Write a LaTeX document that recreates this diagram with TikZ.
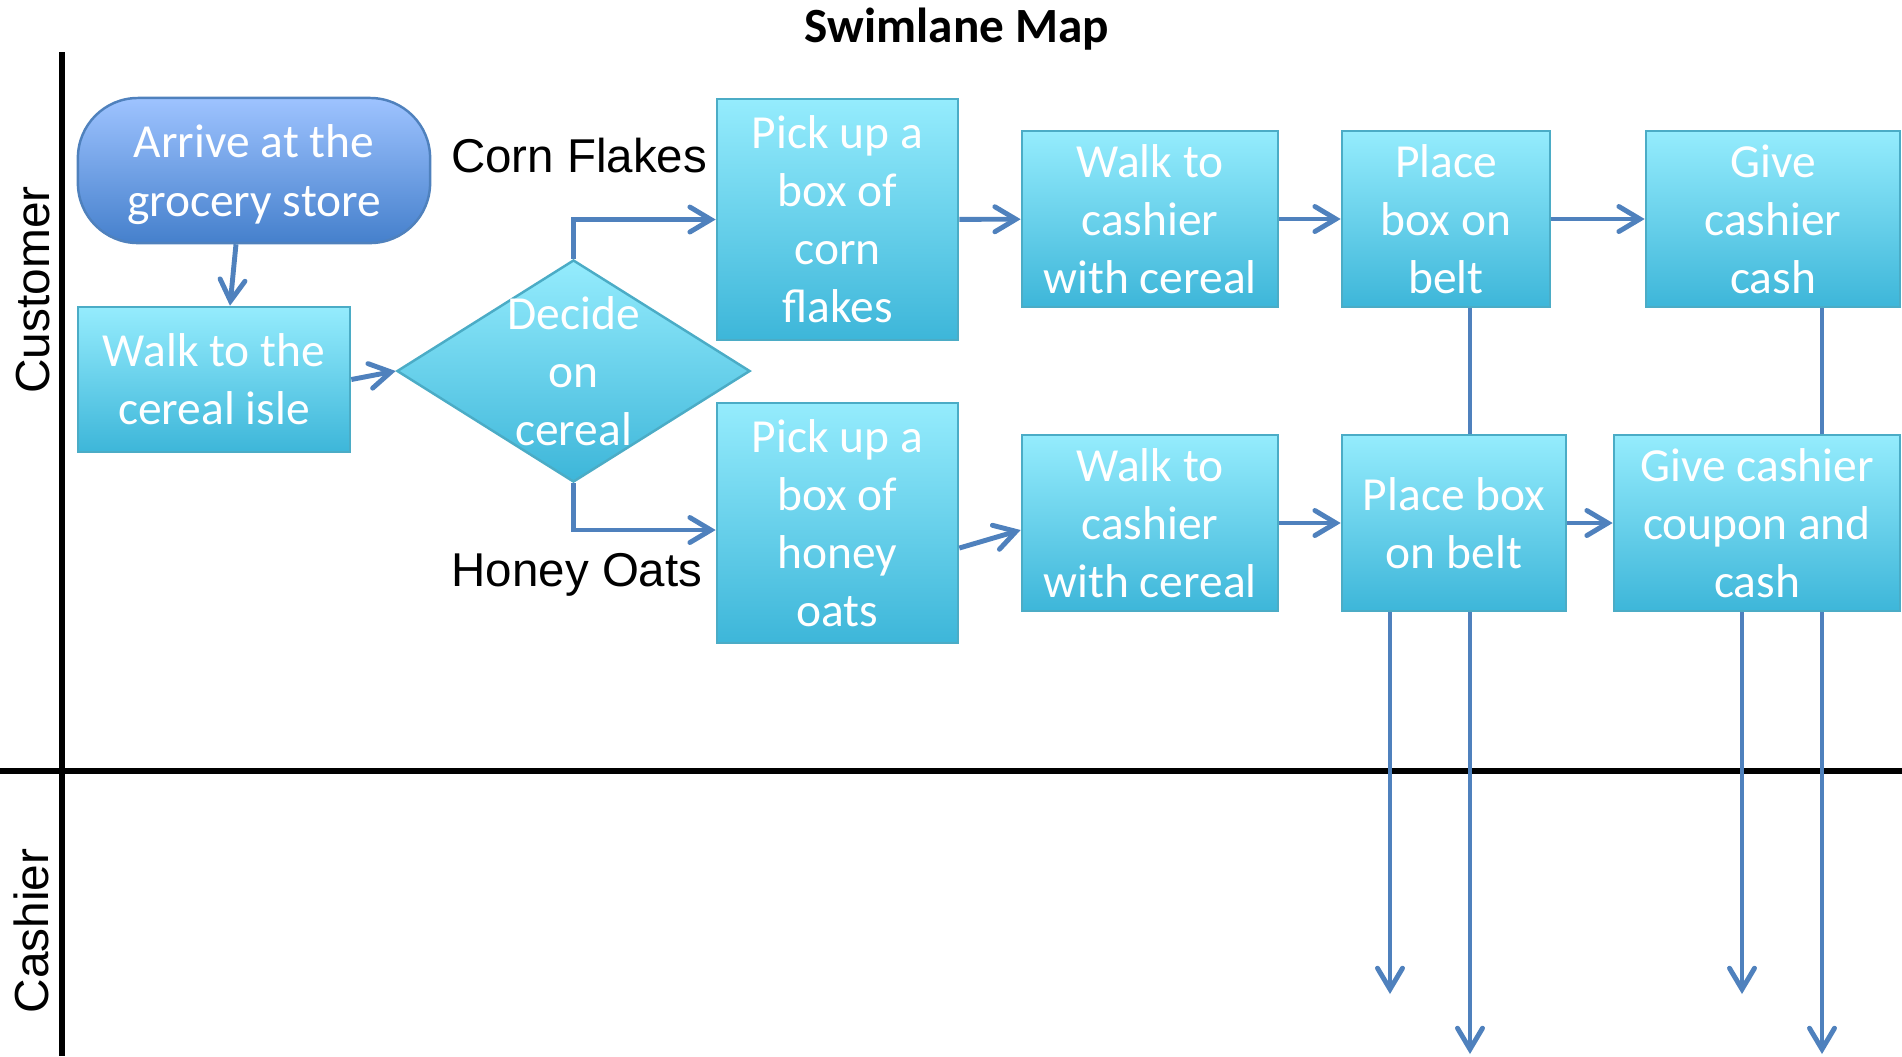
\documentclass[tikz,border=0pt]{standalone}
\usepackage{fontspec}
\setmainfont{Carlito}
\newfontfamily\arialfont{Liberation Sans}
\usetikzlibrary{arrows.meta,shapes.geometric}

\definecolor{boxtop}{HTML}{95ECFD}
\definecolor{boxbottom}{HTML}{3DB6D9}
\definecolor{boxline}{HTML}{4BACC6}
\definecolor{starttop}{HTML}{9EC3FF}
\definecolor{startbottom}{HTML}{4580CC}
\definecolor{startline}{HTML}{4F81BD}
\definecolor{flowline}{HTML}{4F81BD}

\begin{document}
\begin{tikzpicture}[x=0.01cm, y=-0.01cm,
	steptext/.style={text=white, align=center, font=\fontsize{13.5}{16.5}\selectfont},
	task/.style={rectangle, draw=boxline, line width=0.7pt, top color=boxtop, bottom color=boxbottom, inner sep=0pt, steptext},
	start/.style={rectangle, rounded corners=0.6cm, draw=startline, line width=0.7pt, top color=starttop, bottom color=startbottom, inner sep=0pt, text depth=0pt, steptext},
	decision/.style={diamond, draw=boxline, line width=0.7pt, top color=boxtop, bottom color=boxbottom, inner sep=0pt, minimum width=3.53cm, minimum height=2.22cm},
	lane/.style={line width=1.5pt},
	lanelabel/.style={rotate=90, font=\arialfont\fontsize{13.6}{16}\selectfont},
	choice/.style={anchor=base, font=\arialfont\fontsize{13.5}{16}\selectfont},
	flow/.style={draw=flowline, line width=1.4pt, -{Straight Barb[length=2.1mm, width=2.5mm, line cap=round]}},
	link/.style={draw=flowline, line width=1.4pt}]

	\useasboundingbox (0,0) rectangle (1902,1056);

	\node[anchor=base, font=\bfseries\fontsize{14}{17}\selectfont] (title) at (957,42) {Swimlane Map};

	% lanes
	\draw[lane] (62,52) -- (62,1056);
	\draw[lane] (0,771) -- (1902,771);
	\node[lanelabel] (customer) at (33,290) {Customer};
	\node[lanelabel] (cashier) at (31,931) {Cashier};

	% steps
	\node[start, minimum width=3.52cm, minimum height=1.45cm] (arrive) at (254,170.5) {Arrive at the\\grocery store};
	\node[task, minimum width=2.72cm, minimum height=1.45cm] (walk_isle) at (214,379.5) {Walk to the\\cereal isle};
	\node[decision, label={[steptext]center:{Decide\\on\\cereal}}] (decide) at (573.5,371) {};

	\node[choice] (corn) at (579,172) {Corn Flakes};
	\node[choice] (honey) at (577,586) {Honey Oats};

	\node[task, minimum width=2.41cm, minimum height=2.41cm] (pick_corn) at (837.5,219.5) {Pick up a\\box of\\corn\\flakes};
	\node[task, minimum width=2.41cm, minimum height=2.40cm] (pick_honey) at (837.5,523) {Pick up a\\box of\\honey\\oats};

	\node[task, minimum width=2.56cm, minimum height=1.76cm] (walk_corn) at (1150,219) {Walk to\\cashier\\with cereal};
	\node[task, minimum width=2.56cm, minimum height=1.76cm] (walk_honey) at (1150,523) {Walk to\\cashier\\with cereal};

	\node[task, minimum width=2.08cm, minimum height=1.76cm] (place_corn) at (1446,219) {Place\\box on\\belt};
	\node[task, minimum width=2.24cm, minimum height=1.76cm] (place_honey) at (1454,523) {Place box\\on belt};

	\node[task, minimum width=2.54cm, minimum height=1.76cm] (give_cash) at (1773,219) {Give\\cashier\\cash};
	\node[task, minimum width=2.86cm, minimum height=1.76cm] (give_coupon) at (1757,523) {Give cashier\\coupon and\\cash};

	% ends in the cashier lane
	\coordinate (belt_in) at (1390,994);
	\coordinate (belt_out) at (1470,1054);
	\coordinate (pay_in) at (1742,994);
	\coordinate (pay_out) at (1822,1054);

	% connectors
	\draw[flow] ([xshift=-0.18cm]arrive.south) -- ([xshift=0.16cm]walk_isle.north);
	\draw[flow] (walk_isle.east) -- (decide.west);
	\draw[flow] (decide.north) |- (pick_corn.west);
	\draw[flow] (decide.south) |- ([yshift=-0.07cm]pick_honey.west);
	\draw[flow] ([yshift=-0.25cm]pick_honey.east) -- ([yshift=-0.07cm]walk_honey.west);

	\foreach \a/\b in {pick_corn/walk_corn, walk_corn/place_corn, place_corn/give_cash, walk_honey/place_honey, place_honey/give_coupon}
	{
		\draw[flow] (\a) -- (\b);
	}

	\draw[link] (place_corn.south -| belt_out) -- (place_honey.north -| belt_out);
	\draw[link] (give_cash.south -| pay_out) -- (give_coupon.north -| pay_out);

	\draw[flow] (place_honey.south -| belt_in) -- (belt_in);
	\draw[flow] (place_honey.south -| belt_out) -- (belt_out);
	\draw[flow] (give_coupon.south -| pay_in) -- (pay_in);
	\draw[flow] (give_coupon.south -| pay_out) -- (pay_out);
\end{tikzpicture}
\end{document}
